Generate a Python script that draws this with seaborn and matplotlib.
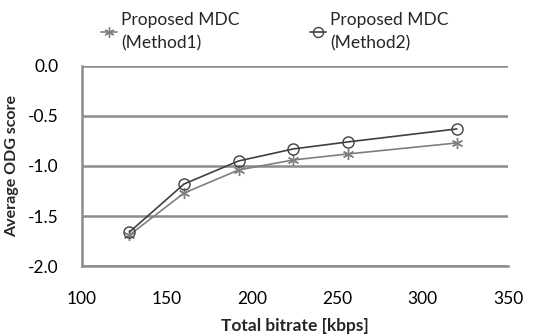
import seaborn as sns
import pandas as pd
import matplotlib.pyplot as plt

sns.set_theme(style="white")
plt.rcParams["font.family"] = ["Lato", "DejaVu Sans"]

bitrate = [128, 160, 192, 224, 256, 320]
odg_method1 = [-1.69, -1.27, -1.04, -0.94, -0.88, -0.77]
odg_method2 = [-1.66, -1.18, -0.95, -0.83, -0.76, -0.63]
labels = ["Proposed MDC\n(Method1)", "Proposed MDC\n(Method2)"]

data = pd.concat([
    pd.DataFrame({"bitrate": bitrate, "odg": odg_method1, "method": labels[0]}),
    pd.DataFrame({"bitrate": bitrate, "odg": odg_method2, "method": labels[1]}),
])

fig = plt.figure(figsize=(5.45, 3.36), dpi=100)
ax = fig.add_axes([0.150, 0.208, 0.782, 0.596])

styles = {
    labels[0]: dict(color="#7f7f7f", marker=(6, 2, 0), mfc="#7f7f7f", ms=8),
    labels[1]: dict(color="#404040", marker="o", mfc="none", ms=8),
}
for m in labels:
    st = styles[m]
    sns.lineplot(
        data=data[data["method"] == m],
        x="bitrate",
        y="odg",
        ax=ax,
        label=m,
        color=st["color"],
        marker=st["marker"],
        markersize=st["ms"],
        markerfacecolor=st["mfc"],
        markeredgecolor=st["color"],
        markeredgewidth=1.0,
        linewidth=1.2,
    )

ax.set_xlim(100, 350)
ax.set_ylim(-2.0, 0.0)
ax.set_xticks([100, 150, 200, 250, 300, 350])
ax.set_yticks([-2.0, -1.5, -1.0, -0.5, 0.0])
ax.set_yticklabels(["-2.0", "-1.5", "-1.0", "-0.5", "0.0"])
ax.yaxis.grid(True, color="#8c8c8c", linewidth=1.8)
ax.set_axisbelow(True)
for s in ["top", "right"]:
    ax.spines[s].set_visible(False)
for s in ["left", "bottom"]:
    ax.spines[s].set_color("#8c8c8c")
    ax.spines[s].set_linewidth(1.8)
ax.tick_params(axis="both", direction="out", length=5, width=1.5, color="#8c8c8c",
               labelsize=12.5, labelcolor="#000000")
ax.tick_params(axis="x", pad=13)
ax.tick_params(axis="y", pad=12)

ax.set_xlabel("Total bitrate [kbps]", fontsize=12.5, fontweight="bold", labelpad=8)
ax.set_ylabel("Average ODG score", fontsize=11.5, fontweight="bold", labelpad=6)

ax.get_legend().remove()
handles, lbls = ax.get_legend_handles_labels()
leg = fig.legend(handles, lbls, loc="upper left", bbox_to_anchor=(89 / 545, 1.0),
                 ncol=2, frameon=False, fontsize=12.5, handlelength=0.9,
                 handletextpad=0.25, columnspacing=4.05, borderaxespad=0.5,
                 borderpad=0.2, markerscale=0.9)
for t in leg.get_texts():
    t.set_linespacing(1.55)

fig.savefig("out.png", dpi=100)
